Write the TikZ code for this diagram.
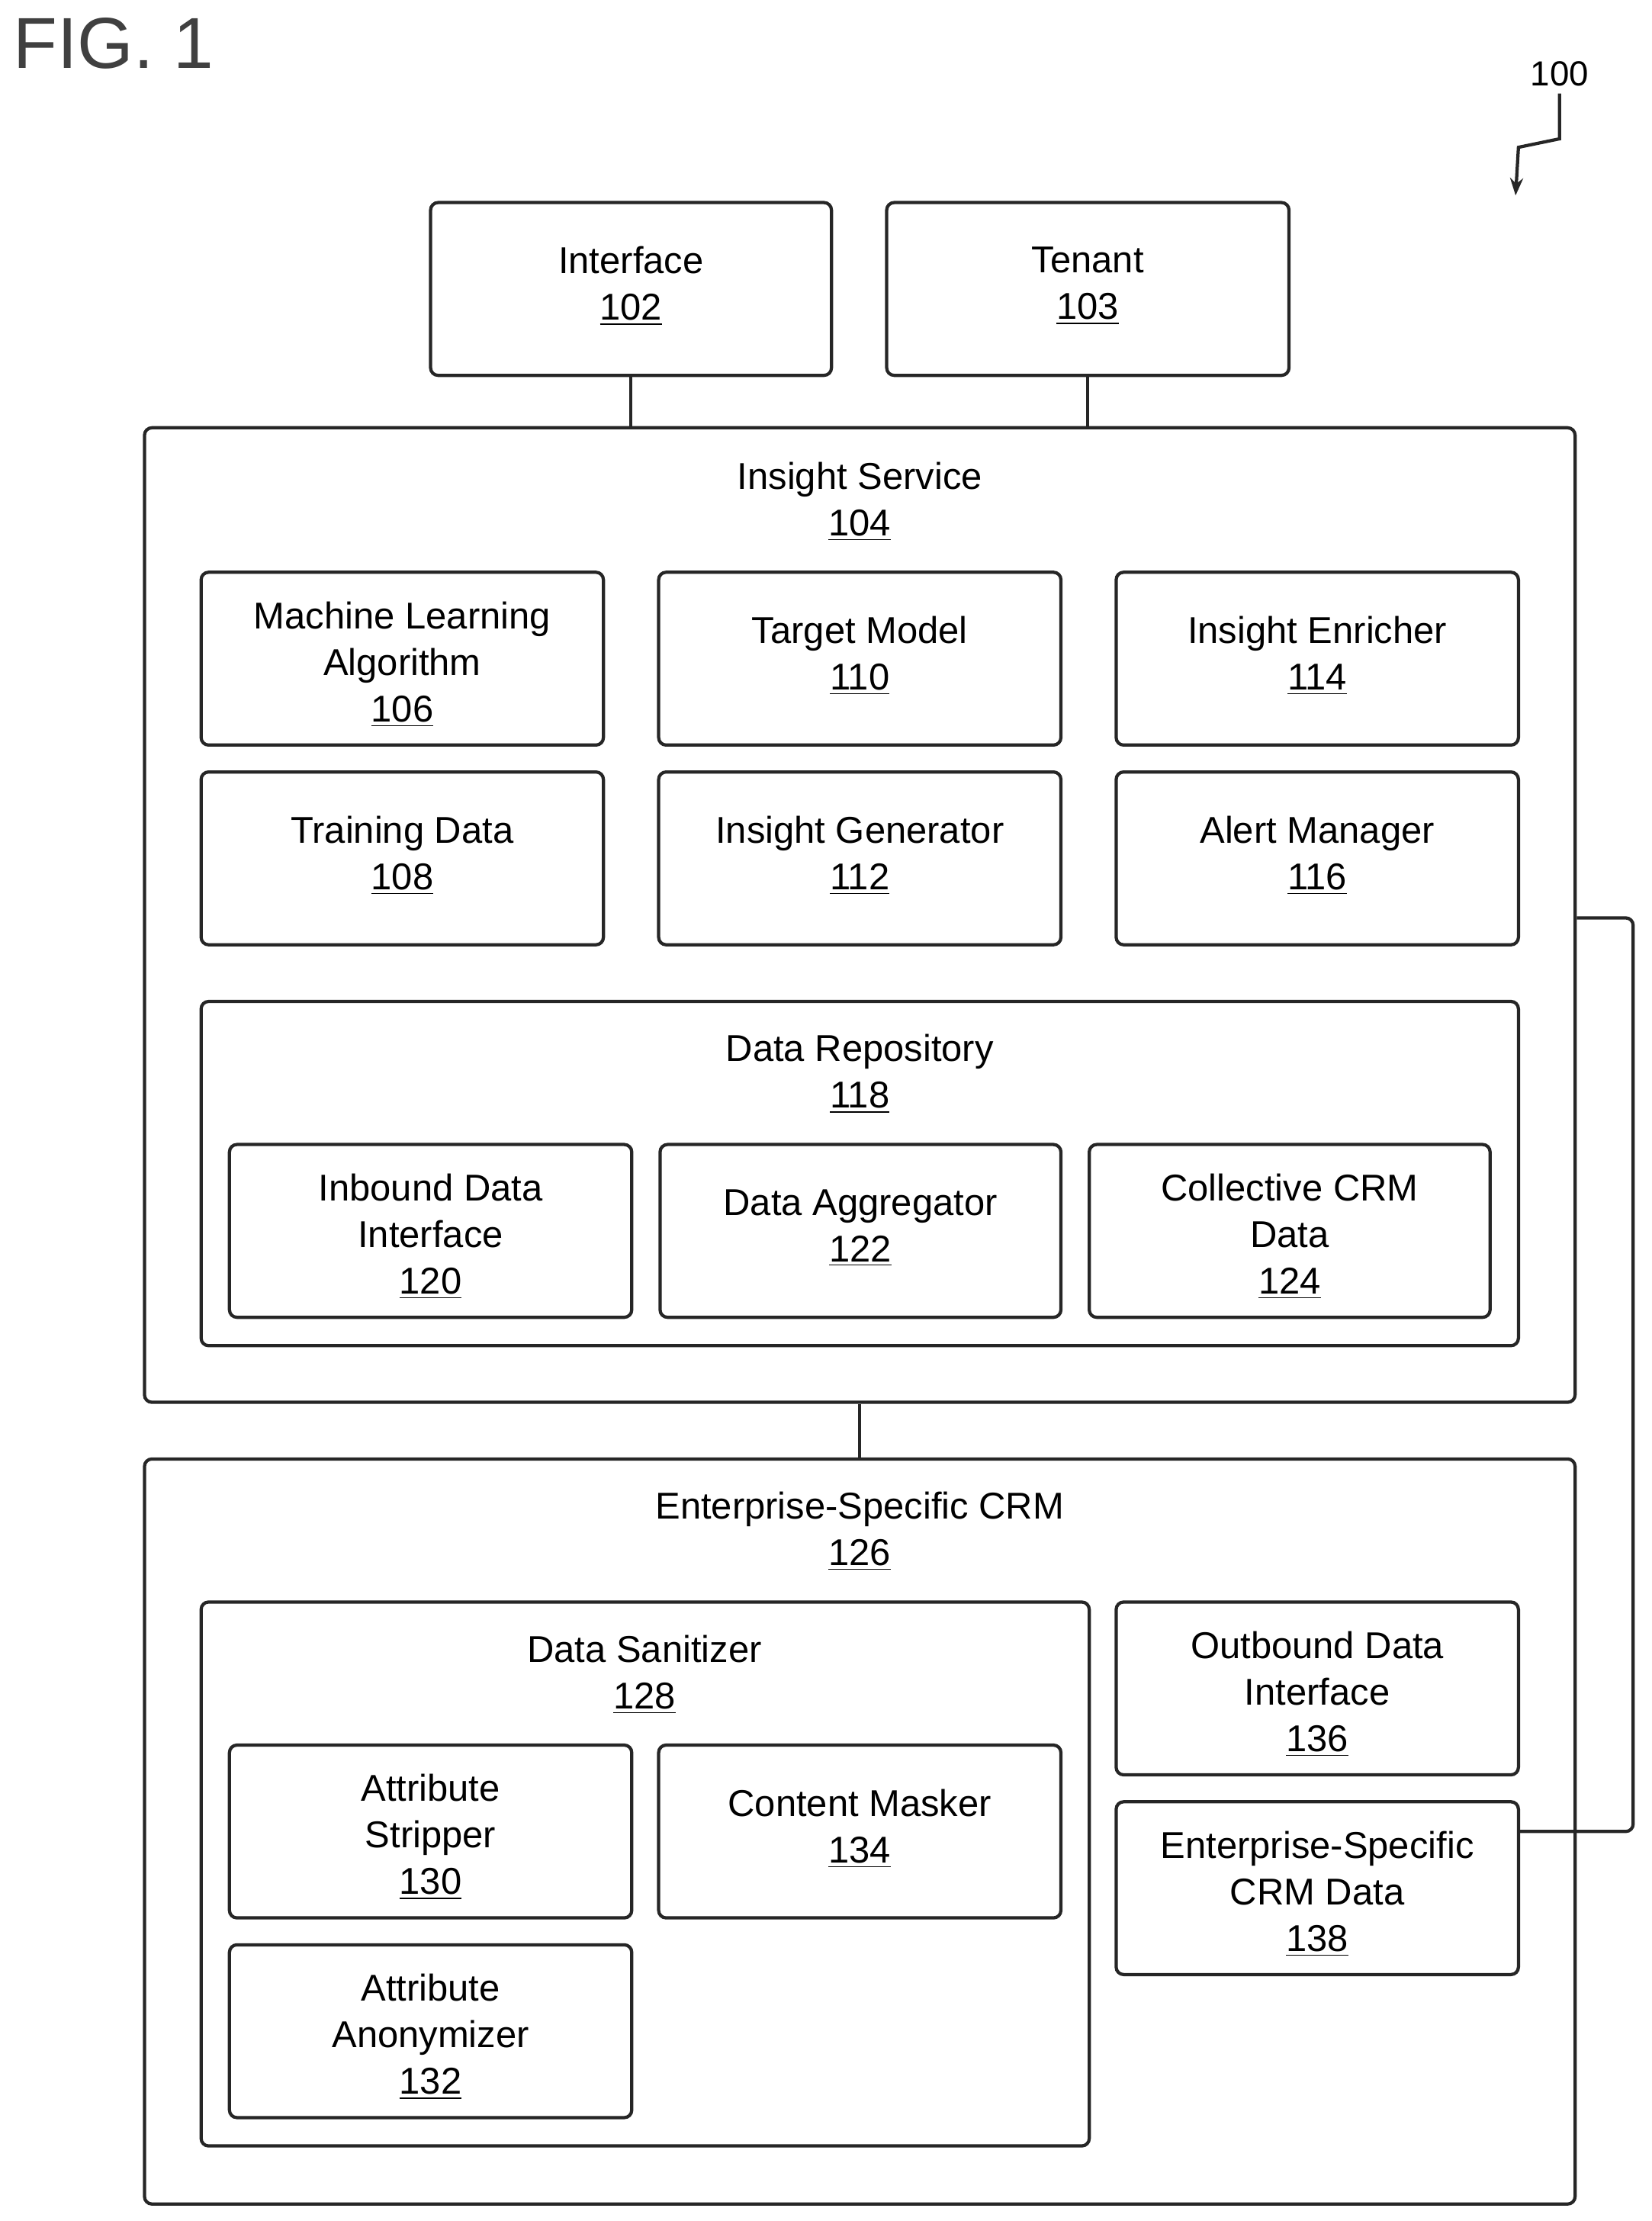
\documentclass[tikz,border=0pt]{standalone}
\usepackage{fontspec}
\setmainfont{Liberation Sans}
\usetikzlibrary{fit,arrows.meta,calc}
\begin{document}
\begin{tikzpicture}[x=0.02cm,y=-0.02cm,
  box/.style={draw=black!85,line width=1.3pt,rounded corners=3pt,inner sep=0pt},
  txt/.style={align=center,font=\fontsize{15}{18.7}\selectfont,inner sep=0pt},
  ttl/.style={txt,anchor=north},
  conn/.style={draw=black!85,line width=1.3pt}]
\newcommand\leaf[7][4]{\node[box,fit={(#3,#4) (#5,#6)}] (#2) {};
  \node[txt] (#2-t) at ($(#2.center)+(0,#1)$) {#7};}
\useasboundingbox (0,0) rectangle (1166,1568);
\node[anchor=north west,font=\fontsize{29}{32}\selectfont,text=black!75,inner sep=0pt] (fig) at (9,12) {FIG. 1};
\node[font=\fontsize{14}{16}\selectfont] (n100) at (1101,52) {100};
\coordinate (a0) at (1101,66);
\coordinate (a1) at (1070,138);
\draw[conn,-{Stealth[length=7pt]}] (a0) -- (1101,98) -- (1072,104) -- (a1);
% top
\leaf[-2]{i102}{304}{143}{587}{265}{Interface\\\underline{102}}
\leaf[-2]{t103}{626}{143}{910}{265}{Tenant\\\underline{103}}
% insight service
\node[box,fit={(102,302) (1112,990)}] (s104) {};
\node[ttl] (s104t) at (607,326) {Insight Service\\\underline{104}};
\leaf{b106}{142}{404}{426}{526}{Machine Learning\\Algorithm\\\underline{106}}
\leaf[-2]{b110}{465}{404}{749}{526}{Target Model\\\underline{110}}
\leaf[-2]{b114}{788}{404}{1072}{526}{Insight Enricher\\\underline{114}}
\leaf[-2]{b108}{142}{545}{426}{667}{Training Data\\\underline{108}}
\leaf[-2]{b112}{465}{545}{749}{667}{Insight Generator\\\underline{112}}
\leaf[-2]{b116}{788}{545}{1072}{667}{Alert Manager\\\underline{116}}
\node[box,fit={(142,707) (1072,950)}] (b118) {};
\node[ttl] (b118t) at (607,730) {Data Repository\\\underline{118}};
\leaf{b120}{162}{808}{446}{930}{Inbound Data\\Interface\\\underline{120}}
\leaf[-2]{b122}{466}{808}{749}{930}{Data Aggregator\\\underline{122}}
\leaf{b124}{769}{808}{1052}{930}{Collective CRM\\Data\\\underline{124}}
% enterprise CRM
\node[box,fit={(102,1030) (1112,1556)}] (e126) {};
\node[ttl] (e126t) at (607,1053) {Enterprise-Specific CRM\\\underline{126}};
\node[box,fit={(142,1131) (769,1515)}] (b128) {};
\node[ttl] (b128t) at (455,1154) {Data Sanitizer\\\underline{128}};
\leaf{b130}{162}{1232}{446}{1354}{Attribute\\Stripper\\\underline{130}}
\leaf[-2]{b134}{465}{1232}{749}{1354}{Content Masker\\\underline{134}}
\leaf{b132}{162}{1373}{446}{1495}{Attribute\\Anonymizer\\\underline{132}}
\leaf{b136}{788}{1131}{1072}{1253}{Outbound Data\\Interface\\\underline{136}}
\leaf{b138}{788}{1272}{1072}{1394}{Enterprise-Specific\\CRM Data\\\underline{138}}
% connectors
\draw[conn] (i102.south) -- (i102.south |- s104.north);
\draw[conn] (t103.south) -- (t103.south |- s104.north);
\draw[conn] (s104.south) -- (e126.north);
\draw[conn,rounded corners=3pt] (s104.east |- 0,648) -- (1153,648) -- (1153,1293) -- (b138.east |- 0,1293);
\end{tikzpicture}
\end{document}
